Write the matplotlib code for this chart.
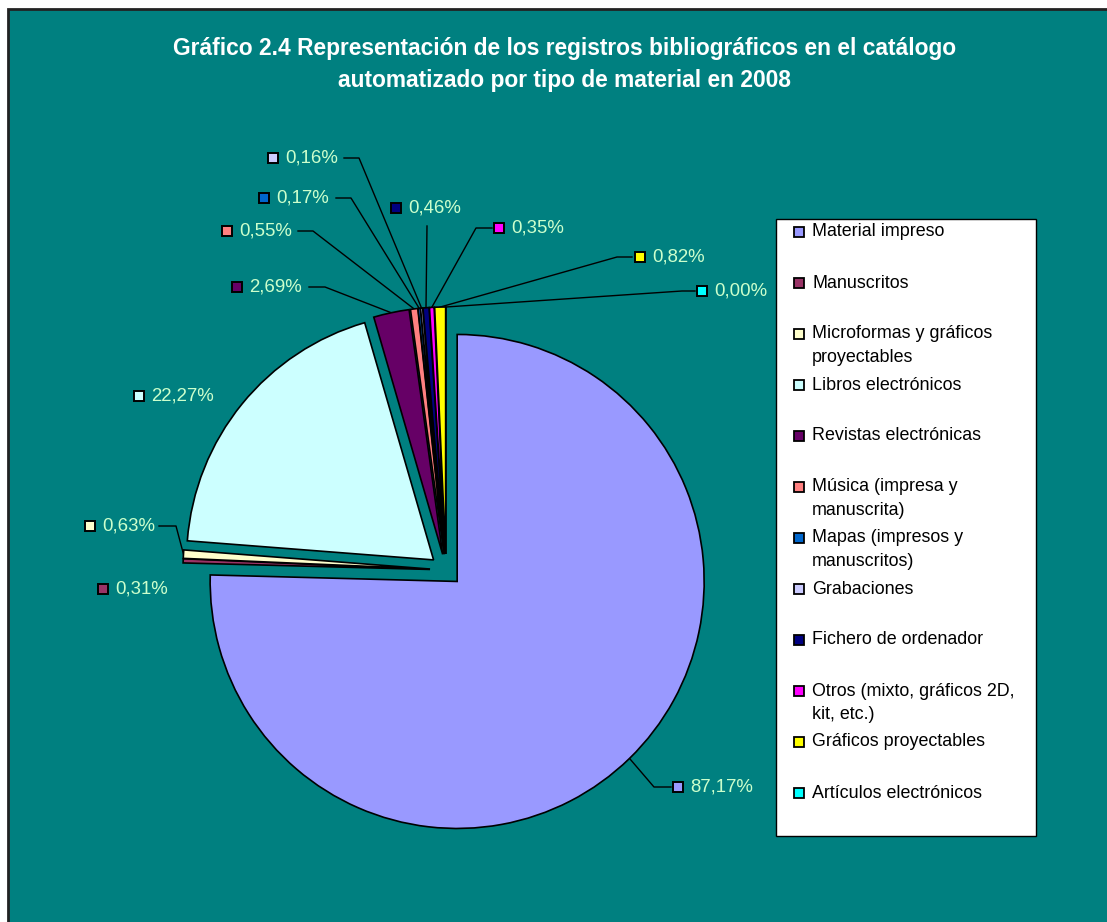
import numpy as np
import matplotlib
matplotlib.use('Agg')
import matplotlib.pyplot as plt
from matplotlib.patches import Rectangle

categories = ['Material impreso', 'Manuscritos', 'Microformas y gráficos\nproyectables',
              'Libros electrónicos', 'Revistas electrónicas', 'Música (impresa y\nmanuscrita)',
              'Mapas (impresos y\nmanuscritos)', 'Grabaciones', 'Fichero de ordenador',
              'Otros (mixto, gráficos 2D,\nkit, etc.)', 'Gráficos proyectables',
              'Artículos electrónicos']
values = [87.17, 0.31, 0.63, 22.27, 2.69, 0.55, 0.17, 0.16, 0.46, 0.35, 0.82, 0.00]
colors = ['#9999FF', '#993366', '#FFFFCC', '#CCFFFF', '#660066', '#FF8080',
          '#0066CC', '#CCCCFF', '#000080', '#FF00FF', '#FFFF00', '#00FFFF']
title = ('Gráfico 2.4 Representación de los registros bibliográficos en el catálogo\n'
         'automatizado por tipo de material en 2008')

W, H = 1107, 922
FONT = 'Liberation Sans'
teal = '#008080'
label_col = '#CCFFCC'

# label layout (pixel coords, y down): marker centre, leader start / elbow
label_pos = [(678, 787), (103, 589), (90, 526), (139, 396), (237, 287), (227, 231),
             (264, 198), (273, 158), (396, 208), (499, 228), (640, 257), (702, 291)]
leaders = [[(671, 787), (654, 787)], None, [(159, 526), (176, 526)], None,
           [(309, 287), (325, 287)], [(298, 231), (313, 231)], [(336, 198), (351, 198)],
           [(344, 158), (359, 158)], [(427, 226)], [(492, 228), (476, 228)],
           [(632, 257), (617, 257)], [(695, 291), (682, 291)]]

fig = plt.figure(figsize=(W / 100, H / 100), dpi=100)
fig.patch.set_facecolor('white')
ax = fig.add_axes([0, 0, 1, 1])

wedges, _ = ax.pie(values, colors=colors, startangle=90, counterclock=False,
                   center=(446, H - 570), radius=247, explode=[16] * len(values),
                   wedgeprops=dict(edgecolor='black', linewidth=1.2))
for w in wedges:
    w.set_zorder(3)

ax.set_xlim(0, W)
ax.set_ylim(0, H)
ax.axis('off')

ax.add_patch(Rectangle((8, -5), W, H - 9 + 5, facecolor=teal, edgecolor='#222222',
                       linewidth=2, zorder=0))

ax.text(565, H - 64.5, title, ha='center', va='center', color='white', fontsize=16.4,
        fontweight='bold', family=FONT, linespacing=1.48, zorder=5)

# data labels
for i, w in enumerate(wedges):
    mx, my = label_pos[i]
    my = H - my
    ax.plot(mx, my, marker='s', markersize=7.6, markerfacecolor=colors[i],
            markeredgecolor='black', markeredgewidth=1.4, zorder=6)
    txt = f'{values[i]:.2f}%'.replace('.', ',')
    ax.text(mx + 12, my, txt, ha='left', va='center', color=label_col,
            fontsize=13.4, family=FONT, zorder=6)
    if leaders[i] is not None:
        tm = np.deg2rad((w.theta1 + w.theta2) / 2)
        ex = w.center[0] + w.r * np.cos(tm)
        ey = w.center[1] + w.r * np.sin(tm)
        xs = [p[0] for p in leaders[i]] + [ex]
        ys = [H - p[1] for p in leaders[i]] + [ey]
        ax.plot(xs, ys, color='black', linewidth=1, zorder=2)

# legend box
ax.add_patch(Rectangle((776, H - 836), 260, 617, facecolor='white', edgecolor='black',
                       linewidth=1, zorder=4))
for i, name in enumerate(categories):
    y = H - (232 + 51 * i)
    ax.plot(799, y, marker='s', markersize=7.4, markerfacecolor=colors[i],
            markeredgecolor='black', markeredgewidth=1.3, zorder=6)
    for k, line in enumerate(name.split('\n')):
        ax.text(812, y - 23.5 * k, line, ha='left', va='center', color='black',
                fontsize=12.9, family=FONT, zorder=6)

fig.savefig('out.png', dpi=100, facecolor='white')
